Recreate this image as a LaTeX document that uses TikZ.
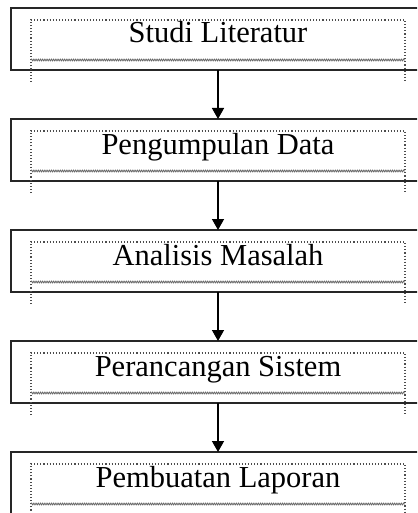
\documentclass[tikz,border=0pt]{standalone}
\usepackage{fontspec}
\setmainfont{Liberation Serif}
\usetikzlibrary{positioning,arrows.meta,decorations.pathmorphing}

\begin{document}
\begin{tikzpicture}[->,>={Triangle[width=12pt,length=11pt]},node distance=49pt,
  step node/.style={rectangle,draw=black!85,line width=1.6pt,minimum width=414pt,minimum height=62pt,inner sep=0pt,outer sep=0pt,text height=20pt,text depth=12pt,font=\fontsize{30.5}{33}\selectfont},
  frame line/.style={-,draw=black!70,dotted,line width=1.1pt},
  wave line/.style={-,draw=black!60,line width=0.8pt,decorate,decoration={snake,amplitude=0.9pt,segment length=2.2pt}}]

            \useasboundingbox (0,0) rectangle (417pt,-513pt);
            \clip (0,0) rectangle (417pt,-513pt);

            \node[step node] (1) at (218pt,-39pt) {Studi Literatur};
            \node[step node] (2) [below=of 1] {Pengumpulan Data};
            \node[step node] (3) [below=of 2] {Analisis Masalah};
            \node[step node] (4) [below=of 3] {Perancangan Sistem};
            \node[step node] (5) [below=of 4] {Pembuatan Laporan};

            \foreach \i in {1,...,5} {
              \draw[frame line] ([xshift=20pt,yshift=-74pt]\i.north west) -- ([xshift=20pt,yshift=-12pt]\i.north west)
                -- ([xshift=-20pt,yshift=-12pt]\i.north east) -- ([xshift=-20pt,yshift=-74pt]\i.north east);
              \draw[wave line] ([xshift=20pt,yshift=-52pt]\i.north west) -- ([xshift=-20pt,yshift=-52pt]\i.north east);
            }

            \draw[->,line width=1.5pt] (1) to (2);
            \draw[->,line width=1.5pt] (2) to (3);
            \draw[->,line width=1.5pt] (3) to (4);
            \draw[->,line width=1.5pt] (4) to (5);

        \end{tikzpicture}
\end{document}
